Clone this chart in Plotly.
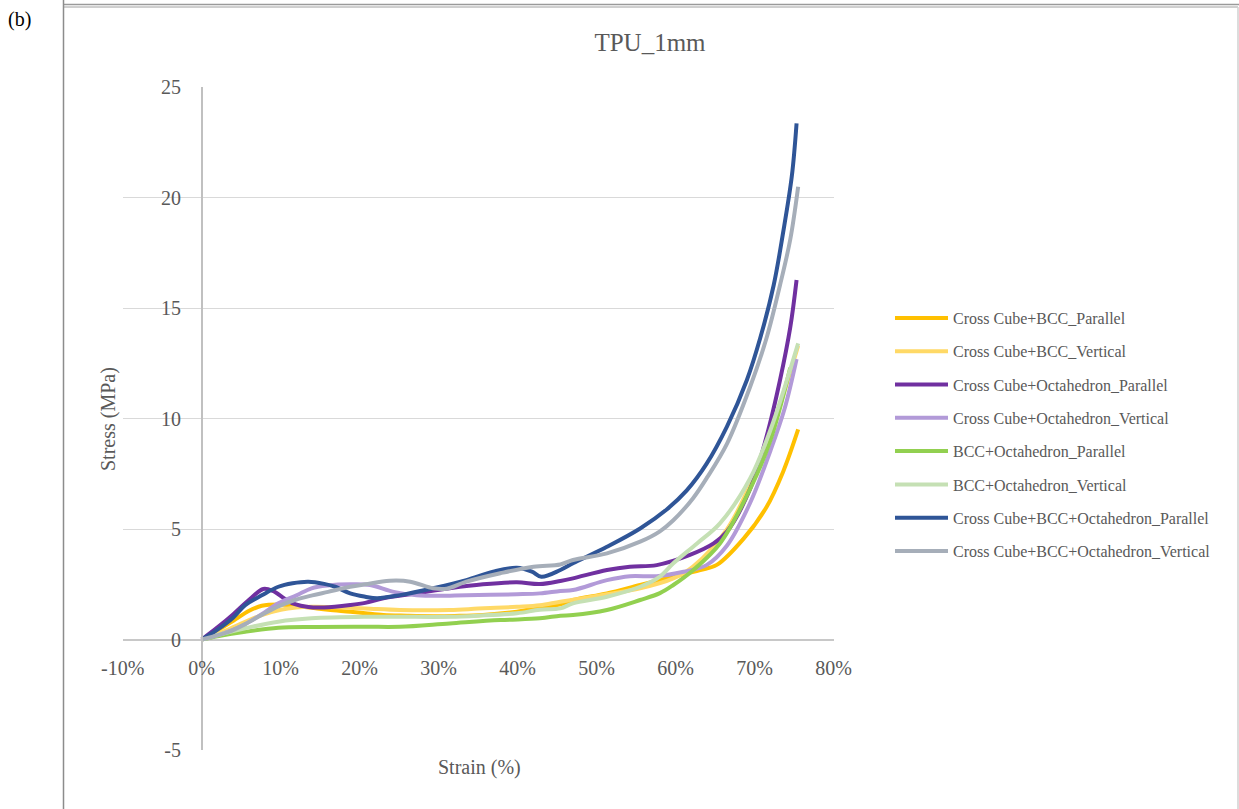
import plotly.graph_objects as go

W, H = 1239, 809

# ---- data: strain (%) and stress (MPa) per lattice / orientation ----
names = [
    "Cross Cube+BCC_Parallel",
    "Cross Cube+BCC_Vertical",
    "Cross Cube+Octahedron_Parallel",
    "Cross Cube+Octahedron_Vertical",
    "BCC+Octahedron_Parallel",
    "BCC+Octahedron_Vertical",
    "Cross Cube+BCC+Octahedron_Parallel",
    "Cross Cube+BCC+Octahedron_Vertical",
]
colors = ["#FFC000", "#FFD966", "#7030A0", "#B29AD8",
          "#92D050", "#C5E0B4", "#2F5597", "#A6AEB9"]

strain_ccbcc_par = [0, 2, 4, 6, 7.6, 9.7, 12, 13.9, 16, 18.8, 20.7, 23, 26, 29.3, 32, 35.6,
                    39.9, 42.8, 45.4, 47, 51.3, 55.5, 59.7, 63.1, 65.2, 68.6, 71.5, 73.6, 75.5]
stress_ccbcc_par = [0, 0.42, 0.85, 1.3, 1.53, 1.59, 1.52, 1.44, 1.35, 1.26, 1.19, 1.11, 1.08,
                    1.06, 1.07, 1.11, 1.26, 1.45, 1.59, 1.79, 2.09, 2.47, 2.84, 3.15, 3.38,
                    4.57, 6.0, 7.6, 9.51]

strain_ccbcc_ver = [0, 3, 5.5, 7.6, 10, 12, 13.9, 17, 20.7, 25.1, 31.4, 35, 39.9, 42.8, 45.4,
                    51.3, 55.5, 59.7, 62.2, 66.5, 69.4, 72, 75.5]
stress_ccbcc_ver = [0, 0.4, 0.8, 1.11, 1.35, 1.45, 1.48, 1.46, 1.41, 1.34, 1.34, 1.4, 1.48,
                    1.55, 1.71, 2.05, 2.32, 2.77, 3.3, 5.0, 7.0, 9.3, 13.3]

strain_ccoct_par = [0, 2, 4, 6, 7.8, 9, 10.5, 11.8, 13.5, 15.5, 18.8, 20.7, 23, 27.2, 31.4,
                    35.6, 39.9, 42.8, 45.4, 47, 51.3, 54.2, 57.6, 61.8, 64.8, 66.5, 69.4,
                    71.5, 73.2, 74.5, 75.3]
stress_ccoct_par = [0, 0.55, 1.15, 1.8, 2.29, 2.2, 1.85, 1.6, 1.47, 1.45, 1.56, 1.66, 1.87,
                    2.09, 2.32, 2.5, 2.59, 2.51, 2.65, 2.77, 3.15, 3.3, 3.37, 3.83, 4.35,
                    4.89, 6.8, 9.19, 11.74, 14.13, 16.28]

strain_ccoct_ver = [0, 2.5, 5, 7.6, 9.7, 12, 13.9, 16, 18.8, 21.3, 24.3, 27.2, 30, 33.5, 39.9,
                    42.8, 45.4, 47, 51.3, 54.2, 57.6, 61, 63.9, 66.5, 69.4, 72, 73.8, 75.3]
stress_ccoct_ver = [0, 0.25, 0.6, 1.15, 1.64, 2.0, 2.32, 2.45, 2.5, 2.47, 2.16, 2.01, 1.98,
                    2.01, 2.05, 2.09, 2.2, 2.24, 2.69, 2.87, 2.87, 3.07, 3.37, 4.26, 6.17,
                    8.56, 10.47, 12.7]

strain_bccoct_par = [0, 2, 5.5, 9.7, 14, 20.7, 25.1, 31.4, 37.8, 42.8, 45.4, 47, 51.3, 55.5,
                     58, 59.7, 62.2, 65.6, 69.4, 72, 74.5]
stress_bccoct_par = [0, 0.15, 0.35, 0.53, 0.57, 0.58, 0.58, 0.73, 0.88, 0.96, 1.08, 1.11,
                     1.34, 1.79, 2.1, 2.47, 3.14, 4.35, 6.8, 9.03, 12.3]

strain_bccoct_ver = [0, 2.5, 5.5, 9.7, 13.9, 20.7, 25, 31.4, 35, 39.9, 42.8, 45.4, 47, 51.3,
                     55.5, 58, 59.7, 62.7, 65.6, 69.4, 72, 75.5]
stress_bccoct_ver = [0, 0.25, 0.51, 0.81, 0.96, 1.03, 1.03, 1.03, 1.08, 1.19, 1.35, 1.41,
                     1.64, 1.94, 2.39, 2.85, 3.45, 4.35, 5.26, 7.28, 9.5, 13.41]

strain_all_par = [0, 2, 4, 5.5, 7.6, 9.7, 11.5, 13.5, 15.5, 16.9, 18.8, 20.7, 22.2, 25.1,
                  29.3, 33.5, 36.9, 39.9, 41.8, 43.0, 45.4, 47, 51.3, 55.5, 58.9, 61.4,
                  63.9, 66.5, 69, 70.7, 72.4, 73.6, 74.7, 75.3]
stress_all_par = [0, 0.45, 1.0, 1.56, 2.0, 2.39, 2.55, 2.62, 2.52, 2.39, 2.09, 1.94, 1.87,
                  2.01, 2.32, 2.69, 3.07, 3.25, 3.07, 2.84, 3.15, 3.45, 4.2, 5.03, 5.9,
                  6.75, 7.95, 9.65, 11.74, 13.65, 16.04, 18.43, 20.98, 23.37]

strain_all_ver = [0, 3.4, 5.5, 7.6, 9.7, 11.8, 14, 16, 18.8, 20.7, 23.8, 26.4, 29.3, 31,
                  33.5, 37.8, 42, 45.4, 47, 51.3, 55.5, 58, 59.7, 62.2, 64, 66.5, 69.4,
                  71.5, 73.2, 74.5, 75.5]
stress_all_ver = [0, 0.35, 0.7, 1.11, 1.5, 1.79, 2.0, 2.16, 2.39, 2.5, 2.66, 2.62, 2.32,
                  2.3, 2.62, 3.0, 3.3, 3.4, 3.6, 3.9, 4.43, 4.9, 5.4, 6.4, 7.35, 8.87,
                  11.42, 13.65, 16.04, 18.11, 20.5]

strains = [strain_ccbcc_par, strain_ccbcc_ver, strain_ccoct_par, strain_ccoct_ver,
           strain_bccoct_par, strain_bccoct_ver, strain_all_par, strain_all_ver]
stresses = [stress_ccbcc_par, stress_ccbcc_ver, stress_ccoct_par, stress_ccoct_ver,
            stress_bccoct_par, stress_bccoct_ver, stress_all_par, stress_all_ver]

x_tickvals = [-10, 0, 10, 20, 30, 40, 50, 60, 70, 80]
x_ticktext = ["-10%", "0%", "10%", "20%", "30%", "40%", "50%", "60%", "70%", "80%"]
y_tickvals = [-5, 0, 5, 10, 15, 20, 25]
y_ticktext = ["-5", "0", "5", "10", "15", "20", "25"]

SERIF = "Liberation Serif"
TXT = "#595959"

# pixel helpers for paper coordinates (figure has zero margins)
def px(x):
    return x / W

def py(y):
    return 1 - y / H

fig = go.Figure()
for i, (name, col) in enumerate(zip(names, colors)):
    fig.add_trace(go.Scatter(
        x=strains[i], y=stresses[i], name=name, mode="lines",
        line=dict(color=col, width=4, shape="spline", smoothing=1.0),
        legendgroup=f"g{i}",
    ))

x0_px, x1_px = 122.7, 833.7      # -10% .. 80%
ytop_px, ybot_px = 87.3, 750.0   # 25 .. -5
zero_x_px = 201.7
zero_y_px = 639.5

fig.update_layout(
    width=W, height=H,
    margin=dict(l=0, r=0, t=0, b=0, pad=0, autoexpand=False),
    paper_bgcolor="white", plot_bgcolor="white",
    font=dict(family=SERIF, color=TXT),
    title=dict(text="TPU_1mm", x=px(650), xanchor="center", y=py(42), yanchor="middle",
               font=dict(family=SERIF, size=25, color=TXT), automargin=False),
    xaxis=dict(
        domain=[px(x0_px), px(x1_px)], range=[-10, 80],
        tickmode="array", tickvals=x_tickvals, ticktext=x_ticktext,
        showgrid=False, zeroline=False, showline=False,
        anchor="free", position=py(zero_y_px), automargin=False,
        ticks="", ticklabelstandoff=14,
        tickfont=dict(family=SERIF, size=20, color=TXT),
    ),
    yaxis=dict(
        domain=[py(ybot_px), py(ytop_px)], range=[-5, 25],
        tickmode="array", tickvals=y_tickvals, ticktext=y_ticktext,
        showgrid=True, gridcolor="#D9D9D9", gridwidth=1.4,
        zeroline=True, zerolinecolor="#C8C8C8", zerolinewidth=1.6,
        showline=True, linecolor="#C0C0C0", linewidth=1.6,
        anchor="free", position=px(zero_x_px), automargin=False,
        ticks="", ticklabelstandoff=16,
        tickfont=dict(family=SERIF, size=20, color=TXT),
    ),
    legend=dict(
        x=px(890), xanchor="left", y=py(301), yanchor="top",
        font=dict(family=SERIF, size=16, color=TXT),
        itemwidth=53, tracegroupgap=9.5, bgcolor="rgba(0,0,0,0)",
    ),
    showlegend=True,
)

# axis titles
fig.add_annotation(text="Strain (%)", x=px(479), y=py(767), xref="paper", yref="paper",
                   showarrow=False, xanchor="center", yanchor="middle",
                   font=dict(family=SERIF, size=20, color=TXT))
fig.add_annotation(text="Stress (MPa)", x=px(108), y=py(419), xref="paper", yref="paper",
                   showarrow=False, textangle=-90, xanchor="center", yanchor="middle",
                   font=dict(family=SERIF, size=20, color=TXT))
# panel label
fig.add_annotation(text="(b)", x=px(20), y=py(20), xref="paper", yref="paper",
                   showarrow=False, xanchor="center", yanchor="middle",
                   font=dict(family=SERIF, size=20, color="black"))

# frame around the chart
frame = [
    dict(x0=64, y0=4.5, x1=1239, y1=4.5, color="#9A9A9A", width=1.5),
    dict(x0=64, y0=7, x1=1238, y1=7, color="#A0A0A0", width=1),
    dict(x0=63.5, y0=0, x1=63.5, y1=809, color="#8C8C8C", width=1.5),
    dict(x0=1238, y0=7, x1=1238, y1=809, color="#D0D0D0", width=1.5),
]
for f in frame:
    fig.add_shape(type="line", xref="paper", yref="paper",
                  x0=px(f["x0"]), y0=py(f["y0"]), x1=px(f["x1"]), y1=py(f["y1"]),
                  line=dict(color=f["color"], width=f["width"]))

fig.write_html("out.html")
